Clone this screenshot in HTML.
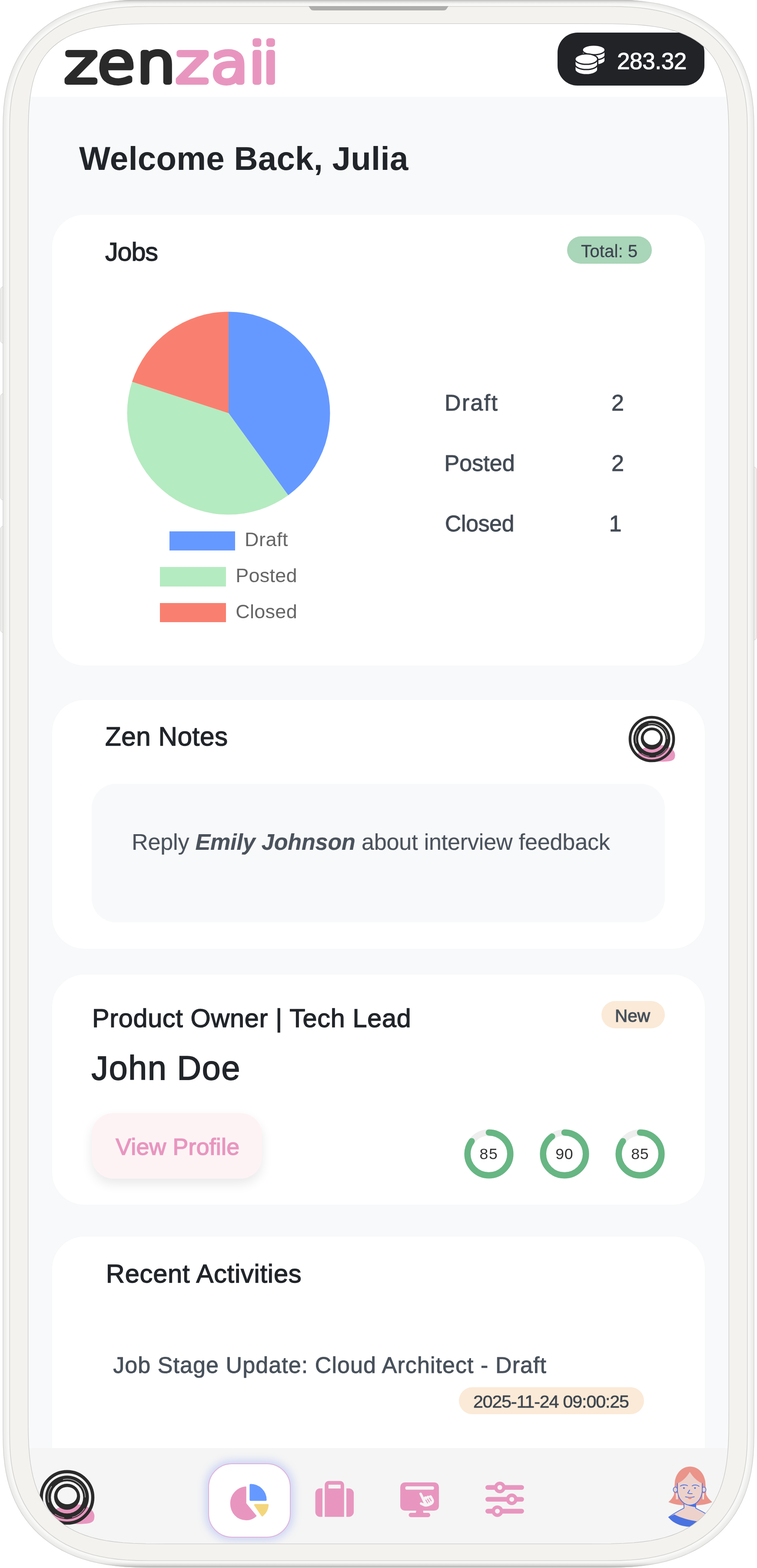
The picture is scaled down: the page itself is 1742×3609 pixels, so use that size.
<!DOCTYPE html>
<html><head><meta charset="utf-8"><title>zenzaii</title>
<style>
html,body{margin:0;padding:0;}
body{width:1742px;height:3609px;position:relative;overflow:hidden;background:#ffffff;font-family:"Liberation Sans", Arial, sans-serif;}
#scr{position:absolute;left:0;top:0;width:1742px;height:3609px;clip-path:inset(46px 54px 50px 56px round 215px);}
.t{position:absolute;white-space:nowrap;}
.r{position:absolute;}
.abs{position:absolute;overflow:visible;}

</style></head><body>
<div id="scr">
<div class="r" style="left:58px;top:48px;width:1628px;height:3514px;background:#f8f9fa;border-radius:0px;"></div>
<div class="r" style="left:58px;top:48px;width:1628px;height:175px;background:#ffffff;border-radius:0px;"></div>
<svg class="abs" style="left:0;top:0" width="700" height="230" viewBox="0 0 700 230"><text transform="translate(0,188.8) scale(1.14,1)" font-family="DejaVu Sans, Liberation Sans, sans-serif" font-weight="200" font-size="124" stroke-width="12" stroke-linejoin="round" stroke-linecap="round"><tspan x="130.96 196.81 275.85" fill="#2a2a2a" stroke="#2a2a2a">zen</tspan><tspan x="355.53 425.40 502.01 529.68" fill="#e896bf" stroke="#e896bf">zaii</tspan></text></svg>
<div class="r" style="left:1283px;top:75px;width:338px;height:122px;background:#212327;border-radius:46px;"></div>
<svg class="abs" style="left:0;top:0;overflow:visible" width="1" height="1">
<g fill="#fff" stroke="#212327" stroke-width="3">
<path d="M1340.1,114.9 L1340.1,139 A26.2,11.2 0 0 0 1392.5,139 L1392.5,114.9 Z"/>
<path d="M1340.1,127 A26.2,11.2 0 0 0 1392.5,127" fill="none"/>
<ellipse cx="1366.3" cy="114.9" rx="26.2" ry="11.2"/>
<path d="M1323,136.1 L1323,160.1 A26.2,12 0 0 0 1375.5,160.1 L1375.5,136.1 Z"/>
<path d="M1323,148.1 A26.2,12 0 0 0 1375.5,148.1" fill="none"/>
<ellipse cx="1349.2" cy="136.1" rx="26.2" ry="12"/>
</g></svg>
<div class="r" style="left:120px;top:493.5px;width:1501.5px;height:1038.0px;background:#ffffff;border-radius:74px;box-shadow:0 0 3px rgba(0,0,0,0.025);"></div>
<div class="r" style="left:120px;top:1611px;width:1501.5px;height:572.5px;background:#ffffff;border-radius:74px;box-shadow:0 0 3px rgba(0,0,0,0.025);"></div>
<div class="r" style="left:120px;top:2243px;width:1501.5px;height:530.3000000000002px;background:#ffffff;border-radius:74px;box-shadow:0 0 3px rgba(0,0,0,0.025);"></div>
<div class="r" style="left:120px;top:2846px;width:1501.5px;height:574px;background:#ffffff;border-radius:74px;box-shadow:0 0 3px rgba(0,0,0,0.025);"></div>
<div class="r" style="left:1305px;top:544px;width:195px;height:62.60000000000002px;background:#a9d5b8;border-radius:32px;"></div>
<svg class="abs" style="left:0;top:0" width="1742" height="1500"><path d="M526,951 L526.00,717.50 A233.5,233.5 0 0 1 663.25,1139.91 Z" fill="#6699ff"/><path d="M526,951 L663.25,1139.91 A233.5,233.5 0 0 1 303.93,878.84 Z" fill="#b5ebc0"/><path d="M526,951 L303.93,878.84 A233.5,233.5 0 0 1 526.00,717.50 Z" fill="#f98070"/></svg>
<div class="r" style="left:389.6px;top:1222.5px;width:151.39999999999998px;height:44.200000000000045px;background:#6699ff;border-radius:0px;"></div>
<div class="r" style="left:368px;top:1305px;width:151.60000000000002px;height:44.59999999999991px;background:#b5ebc0;border-radius:0px;"></div>
<div class="r" style="left:368px;top:1388px;width:151.60000000000002px;height:44px;background:#f98070;border-radius:0px;"></div>
<svg class="abs" style="left:1440px;top:1640px" width="120" height="120" viewBox="-60 -61 120 120"><path d="M-32,34 C-25,17 10,11 30,15 C52,21 55,34 53,41 C52,51 40,52 20,52 L-10,51 C-25,49 -35,44 -32,34 Z" fill="#e896bf"/><circle r="50.2" fill="none" stroke="#2a2a2a" stroke-width="6.3"/><path d="M-42.60,0.00 A42.6,42.6 0 1 0 42.60,0.00 A42.6,42.6 0 1 0 -42.60,0.00 Z M-31.50,0.00 A31.5,31.5 0 1 0 31.50,0.00 A31.5,31.5 0 1 0 -31.50,0.00 Z" fill="#2a2a2a" fill-rule="evenodd"/><path d="M-25.40,-1.20 A25.4,25.4 0 1 0 25.40,-1.20 A25.4,25.4 0 1 0 -25.40,-1.20 Z M-18.80,-3.40 A19.1,16.9 0 1 0 19.40,-3.40 A19.1,16.9 0 1 0 -18.80,-3.40 Z" fill="#2a2a2a" fill-rule="evenodd"/><path d="M-7.99,-34.59 A35.5,35.5 0 0 1 35.50,-0.00 M-35.57,10.20 A37,37 0 0 1 -29.93,-21.75" fill="none" stroke="#ffffff" stroke-width="1.1" opacity="0.85"/><path d="M34.18,21.36 A40.3,40.3 0 0 1 9.75,39.10 M-5.61,39.91 A40.3,40.3 0 0 1 -23.69,32.60" fill="none" stroke="#e896bf" stroke-width="1.2" opacity="0.9"/></svg>
<div class="r" style="left:211px;top:1804px;width:1319px;height:318.5px;background:#f8f9fa;border-radius:56px;"></div>
<div class="r" style="left:1384px;top:2304px;width:146px;height:62.69999999999982px;background:#fbead7;border-radius:32px;"></div>
<div class="r" style="left:211px;top:2562px;width:392px;height:151px;background:#fdf3f5;border-radius:50px;box-shadow:0 12px 26px rgba(0,0,0,0.09);"></div>
<svg class="abs" style="left:1064.8px;top:2596.4px" width="120" height="120" viewBox="0 0 120 120"><circle cx="60" cy="60" r="49.3" fill="none" stroke="#eeeeee" stroke-width="14.5"/><circle cx="60" cy="60" r="49.3" fill="none" stroke="#67b683" stroke-width="14.5" stroke-linecap="round" stroke-dasharray="263.30 309.76" transform="rotate(-90 60 60)"/></svg>
<svg class="abs" style="left:1238.8px;top:2596.4px" width="120" height="120" viewBox="0 0 120 120"><circle cx="60" cy="60" r="49.3" fill="none" stroke="#eeeeee" stroke-width="14.5"/><circle cx="60" cy="60" r="49.3" fill="none" stroke="#67b683" stroke-width="14.5" stroke-linecap="round" stroke-dasharray="278.78 309.76" transform="rotate(-90 60 60)"/></svg>
<svg class="abs" style="left:1412.8px;top:2596.4px" width="120" height="120" viewBox="0 0 120 120"><circle cx="60" cy="60" r="49.3" fill="none" stroke="#eeeeee" stroke-width="14.5"/><circle cx="60" cy="60" r="49.3" fill="none" stroke="#67b683" stroke-width="14.5" stroke-linecap="round" stroke-dasharray="263.30 309.76" transform="rotate(-90 60 60)"/></svg>
<div class="r" style="left:1055.5px;top:3192.5px;width:426.5px;height:62.5px;background:#fbead7;border-radius:31px;"></div>
<div class="t" id="t_coin" style="left:1420.00px;top:114.37px;font-size:53.07px;line-height:53.07px;color:#ffffff;font-weight:400;letter-spacing:-0.400px;-webkit-text-stroke:1.1px #ffffff;">283.32</div>
<div class="t" id="t_welcome" style="left:181.90px;top:327.05px;font-size:76.26px;line-height:76.26px;color:#212529;font-weight:700;letter-spacing:0.246px;">Welcome Back, Julia</div>
<div class="t" id="t_jobs" style="left:242.00px;top:549.75px;font-size:59.36px;line-height:59.36px;color:#212529;font-weight:400;letter-spacing:-1.135px;-webkit-text-stroke:1.4px #212529;">Jobs</div>
<div class="t" id="t_total" style="left:1337.00px;top:558.23px;font-size:40.36px;line-height:40.36px;color:#3d4250;font-weight:400;letter-spacing:0.025px;-webkit-text-stroke:0.3px #3d4250;">Total: 5</div>
<div class="t" id="t_lg_draft" style="left:563.10px;top:1219.21px;font-size:45.00px;line-height:45.00px;color:#666666;font-weight:400;letter-spacing:0.450px;">Draft</div>
<div class="t" id="t_lg_posted" style="left:542.30px;top:1302.01px;font-size:45.00px;line-height:45.00px;color:#666666;font-weight:400;letter-spacing:0.240px;">Posted</div>
<div class="t" id="t_lg_closed" style="left:542.20px;top:1385.01px;font-size:45.00px;line-height:45.00px;color:#666666;font-weight:400;letter-spacing:0.280px;">Closed</div>
<div class="t" id="t_st_draft" style="left:1023.10px;top:902.32px;font-size:51.96px;line-height:51.96px;color:#434b55;font-weight:400;letter-spacing:2.300px;-webkit-text-stroke:1.0px #434b55;">Draft</div>
<div class="t" id="t_st_posted" style="left:1022.50px;top:1039.50px;font-size:52.09px;line-height:52.09px;color:#434b55;font-weight:400;letter-spacing:0.000px;-webkit-text-stroke:1.0px #434b55;">Posted</div>
<div class="t" id="t_st_closed" style="left:1024.00px;top:1179.86px;font-size:51.68px;line-height:51.68px;color:#434b55;font-weight:400;letter-spacing:-0.280px;-webkit-text-stroke:1.0px #434b55;">Closed</div>
<div class="t" id="t_n_draft" style="left:1407.00px;top:902.32px;font-size:51.96px;line-height:51.96px;color:#434b55;font-weight:400;letter-spacing:0.000px;-webkit-text-stroke:1.0px #434b55;">2</div>
<div class="t" id="t_n_posted" style="left:1407.00px;top:1039.50px;font-size:52.09px;line-height:52.09px;color:#434b55;font-weight:400;letter-spacing:0.000px;-webkit-text-stroke:1.0px #434b55;">2</div>
<div class="t" id="t_n_closed" style="left:1401.75px;top:1179.86px;font-size:51.68px;line-height:51.68px;color:#434b55;font-weight:400;letter-spacing:0.000px;-webkit-text-stroke:1.0px #434b55;">1</div>
<div class="t" id="t_zen" style="left:242.00px;top:1666.44px;font-size:60.20px;line-height:60.20px;color:#212529;font-weight:400;letter-spacing:0.541px;-webkit-text-stroke:1.4px #212529;">Zen Notes</div>
<div class="t" id="t_note" style="left:303.00px;top:1911.78px;font-size:52.23px;line-height:52.23px;color:#4a525c;font-weight:400;letter-spacing:-0.249px;-webkit-text-stroke:0.2px #4a525c;">Reply <b><i>Emily Johnson</i></b> about interview feedback</div>
<div class="t" id="t_po" style="left:212.00px;top:2314.35px;font-size:59.36px;line-height:59.36px;color:#212529;font-weight:400;letter-spacing:0.688px;-webkit-text-stroke:1.4px #212529;">Product Owner | Tech Lead</div>
<div class="t" id="t_new" style="left:1415.00px;top:2318.31px;font-size:40.50px;line-height:40.50px;color:#48525c;font-weight:400;letter-spacing:0.000px;-webkit-text-stroke:1.2px #48525c;">New</div>
<div class="t" id="t_john" style="left:210.60px;top:2419.86px;font-size:76.96px;line-height:76.96px;color:#212529;font-weight:400;letter-spacing:1.739px;-webkit-text-stroke:1.8px #212529;">John Doe</div>
<div class="t" id="t_view" style="left:266.20px;top:2613.20px;font-size:53.63px;line-height:53.63px;color:#e896bf;font-weight:400;letter-spacing:0.241px;-webkit-text-stroke:1.6px #e896bf;">View Profile</div>
<div class="t" id="t_r1" style="left:1103.50px;top:2638.73px;font-size:35.75px;line-height:35.75px;color:#333333;font-weight:400;letter-spacing:1.600px;">85</div>
<div class="t" id="t_r2" style="left:1278.30px;top:2638.73px;font-size:35.75px;line-height:35.75px;color:#333333;font-weight:400;letter-spacing:0.600px;">90</div>
<div class="t" id="t_r3" style="left:1452.30px;top:2638.73px;font-size:35.75px;line-height:35.75px;color:#333333;font-weight:400;letter-spacing:0.600px;">85</div>
<div class="t" id="t_recent" style="left:243.80px;top:2901.62px;font-size:59.64px;line-height:59.64px;color:#212529;font-weight:400;letter-spacing:0.775px;-webkit-text-stroke:1.4px #212529;">Recent Activities</div>
<div class="t" id="t_act" style="left:260.20px;top:3116.30px;font-size:52.09px;line-height:52.09px;color:#48515b;font-weight:400;letter-spacing:1.039px;-webkit-text-stroke:0.9px #48515b;">Job Stage Update: Cloud Architect - Draft</div>
<div class="t" id="t_date" style="left:1089.00px;top:3206.42px;font-size:41.20px;line-height:41.20px;color:#3e4650;font-weight:400;letter-spacing:-1.137px;-webkit-text-stroke:0.7px #3e4650;">2025-11-24 09:00:25</div>
<div class="r" style="left:58px;top:3332.5px;width:1628px;height:229.5px;background:#f5f5f5;border-radius:0px;"></div>
<svg class="abs" style="left:84px;top:3376px" width="140" height="140" viewBox="-70 -70 140 140"><g transform="translate(0.3,0.4) scale(1.18)"><path d="M-32,34 C-25,17 10,11 30,15 C52,21 55,34 53,41 C52,51 40,52 20,52 L-10,51 C-25,49 -35,44 -32,34 Z" fill="#e896bf"/><circle r="50.2" fill="none" stroke="#2a2a2a" stroke-width="6.3"/><path d="M-42.60,0.00 A42.6,42.6 0 1 0 42.60,0.00 A42.6,42.6 0 1 0 -42.60,0.00 Z M-31.50,0.00 A31.5,31.5 0 1 0 31.50,0.00 A31.5,31.5 0 1 0 -31.50,0.00 Z" fill="#2a2a2a" fill-rule="evenodd"/><path d="M-25.40,-1.20 A25.4,25.4 0 1 0 25.40,-1.20 A25.4,25.4 0 1 0 -25.40,-1.20 Z M-18.80,-3.40 A19.1,16.9 0 1 0 19.40,-3.40 A19.1,16.9 0 1 0 -18.80,-3.40 Z" fill="#2a2a2a" fill-rule="evenodd"/><path d="M-7.99,-34.59 A35.5,35.5 0 0 1 35.50,-0.00 M-35.57,10.20 A37,37 0 0 1 -29.93,-21.75" fill="none" stroke="#ffffff" stroke-width="1.1" opacity="0.85"/><path d="M34.18,21.36 A40.3,40.3 0 0 1 9.75,39.10 M-5.61,39.91 A40.3,40.3 0 0 1 -23.69,32.60" fill="none" stroke="#e896bf" stroke-width="1.2" opacity="0.9"/></g></svg>
<div class="r" style="left:478.5px;top:3367.6px;width:190.60000000000002px;height:171.5px;background:#ffffff;border-radius:55px;border:2px solid #dfb3dc;box-sizing:border-box;box-shadow:0 0 18px 7px rgba(150,170,245,0.42);"></div>
<svg class="abs" style="left:0;top:0;overflow:visible" width="1" height="1">
<path d="M576.9,3452.1 L576.9,3417.9 A34.2,34.2 0 0 1 611.1,3452.1 Z" fill="#6699ff" stroke="#6699ff" stroke-width="5" stroke-linejoin="round"/>
<path d="M565,3423 L565,3460.5 L588.5,3489 C582,3495 575,3497.5 567,3497.5 C546,3497.5 531.5,3481 531.5,3460 C531.5,3441 546,3425 565,3423 Z" fill="#e896bf" stroke="#e896bf" stroke-width="3.5" stroke-linejoin="round"/>
<path d="M587,3464 L616,3464 C615.5,3474 611,3482 603.5,3488 Z" fill="#f3d67c" stroke="#f3d67c" stroke-width="4.5" stroke-linejoin="round"/>
</svg>
<svg class="abs" style="left:0;top:0;overflow:visible" width="1" height="1"><g fill="#e896bf">
<path d="M742,3425.8 L742,3491.2 L736,3491.2 C730,3491.2 725.6,3486 725.6,3480 L725.6,3437 C725.6,3431 730,3425.8 736,3425.8 Z"/>
<path d="M797.1,3425.8 L797.1,3491.2 L803,3491.2 C809,3491.2 814.1,3486 814.1,3480 L814.1,3437 C814.1,3431 809,3425.8 803,3425.8 Z"/>
<path d="M747.3,3491.2 L747.3,3418 C747.3,3413 751.5,3408.8 756.5,3408.8 L782.6,3408.8 C787.6,3408.8 791.8,3413 791.8,3418 L791.8,3491.2 Z M755.9,3417.3 L755.9,3426.1 L783.8,3426.1 L783.8,3417.3 Z" fill-rule="evenodd"/>
</g></svg>
<svg class="abs" style="left:0;top:0;overflow:visible" width="1" height="1">
<g fill="#e896bf">
<rect x="921.1" y="3411.9" width="88.9" height="65.1" rx="10.5"/>
<path d="M958.2,3476 L973.3,3476 L974.5,3483 L956.5,3483 Z"/>
<rect x="940.5" y="3481.9" width="49.6" height="10.1" rx="5.05"/>
</g>
<rect x="932.6" y="3421" width="66.3" height="7.8" rx="3.9" fill="#f5f5f5"/>
<path d="M965,3438.5 C964.5,3435.5 969,3434.5 970.5,3437 L975.3,3446.5 C977,3443.5 980,3443.5 981.5,3444.8 C982.8,3442.2 986,3442 987.2,3443.8 C988.6,3441 992,3440.6 993.5,3443 L997.8,3451 C1000,3456 998,3461 993,3463.8 L987,3466.6 C983,3468.2 978,3468.2 974,3466.2 L967.5,3463.2 C964.8,3461.6 966.6,3456.8 969.6,3458 L975.2,3460.2 Z" fill="#f5f5f5"/>
<g stroke="#e896bf" stroke-width="2.2" stroke-linecap="round"><path d="M980,3452.7 L983.9,3459.3"/><path d="M983.9,3450.4 L987.9,3457"/><path d="M988.3,3448.2 L992.3,3454.4"/></g>
</svg>
<svg class="abs" style="left:0;top:0;overflow:visible" width="1" height="1">
<g stroke="#e896bf" stroke-width="10.9" stroke-linecap="round"><path d="M1122.5,3423.6 L1200.4,3423.6"/><path d="M1122.5,3450.9 L1200.4,3450.9"/><path d="M1122.5,3478.2 L1200.4,3478.2"/></g>
<g fill="#e896bf"><circle cx="1150.2" cy="3423.6" r="13.3"/><circle cx="1177.7" cy="3450.9" r="13.3"/><circle cx="1144.6" cy="3478.2" r="13.3"/></g>
<g fill="#f5f5f5"><circle cx="1150.2" cy="3423.6" r="5.5"/><circle cx="1177.7" cy="3450.9" r="5.5"/><circle cx="1144.6" cy="3478.2" r="5.5"/></g>
</svg>
<svg class="abs" style="left:1530px;top:3365px" width="120" height="160" viewBox="0 0 120 160">
<path d="M57.9,10.6 C40,10.6 26,25 23,45 L21,75 C18,83 12,89 8.2,92.2 C20,97 32,99.5 45,99.5 L72,99.5 C85,99.5 98,97 109,92.2 C104,88 98,82 95,75 L93,45 C90,25 76,10.6 57.9,10.6 Z" fill="#ea948a"/>
<path d="M43.9,95 L71,95 L71,106.2 C80,112 88,116 98,121 L100,140 C90,147 75,150 58,149 C40,148.7 22,143 8.2,127.4 C20,119 32,112 43.9,106.2 Z" fill="#edd2cc"/>
<path d="M8.2,127.4 L22,120.7 C35,128 55,134 77,137 L100,137 C92,146 75,150 58,149 C40,148.7 25,143 14.5,134 Z" fill="#4a72e0"/>
<g fill="none" stroke="#4a72e0" stroke-width="1.8" stroke-linejoin="round">
<path d="M43.9,96 L43.9,106.2 C32,112 20,119 8.2,127.4"/>
<path d="M71,96 L71,106.2 C80,111 88,115 96,120"/>
</g>
<path d="M54,100.4 L71,97 L71,104.3 Z" fill="#4a72e0"/>
<ellipse cx="24.1" cy="63.7" rx="4.8" ry="6" fill="#edd2cc" stroke="#4a72e0" stroke-width="1.6"/>
<ellipse cx="89.8" cy="63.7" rx="4.8" ry="6" fill="#edd2cc" stroke="#4a72e0" stroke-width="1.6"/>
<path d="M57.4,22.7 C50,35 40,45 29,49.2 L29,68 C31,86 44,99.4 57.9,99.4 C72,99.4 84,86 86,68 L86,49.2 C75,45 65,35 57.4,22.7 Z" fill="#edd2cc"/>
<g fill="none" stroke="#4a72e0" stroke-width="1.8" stroke-linecap="round">
<path d="M29,49.5 L29,68 C31,86 44,99.4 57.9,99.4 C72,99.4 84,86 86,68 L86,49.5"/>
<path d="M35.7,55.5 C39,52.5 47,51.5 52.1,54.5"/><path d="M62.8,55 C67,52 74,52 78.7,56"/>
<path d="M57,64.7 L52.6,71.4 C54,73 58,73 62.8,72.9"/>
<path d="M47.3,80.1 C54,82 61,82 67.6,80.1"/>
</g>
<path d="M51.5,81 C55,81.5 60,81.5 63.5,81 C62,84 60,85.4 57.9,85.4 C55,85.4 53,84 51.5,81 Z" fill="#ec8c80"/>
<circle cx="43.9" cy="59.9" r="2" fill="#4a72e0"/><circle cx="69.3" cy="59.9" r="2" fill="#4a72e0"/>
<g stroke="#ffffff" stroke-width="1.6" opacity="0.9"><path d="M26.5,72 L26.5,86"/><path d="M28.5,72 L29,86"/><path d="M87.5,72 L87.5,86"/><path d="M89.5,72 L89,86"/></g>
</svg>
</div>
<svg class="abs" style="left:0;top:0" width="1742" height="3609" viewBox="0 0 1742 3609">
<defs>
<mask id="hole" maskUnits="userSpaceOnUse" x="0" y="0" width="1742" height="3609"><rect x="0" y="0" width="1742" height="3609" fill="#fff"/><path d="M64.70,356.00 L64.99,293.01 L65.87,264.28 L67.34,241.83 L69.40,222.77 L72.05,205.98 L75.29,190.88 L79.13,177.12 L83.58,164.48 L88.65,152.82 L94.33,142.04 L100.64,132.04 L107.61,122.77 L115.23,114.19 L123.53,106.26 L132.55,98.95 L142.30,92.25 L152.83,86.12 L164.20,80.57 L176.46,75.57 L189.71,71.11 L204.07,67.20 L219.71,63.82 L236.88,60.96 L255.97,58.63 L277.62,56.82 L303.14,55.53 L335.81,54.76 L407.40,54.50 L1334.60,54.50 L1406.19,54.76 L1438.86,55.53 L1464.38,56.82 L1486.03,58.63 L1505.12,60.96 L1522.29,63.82 L1537.93,67.20 L1552.29,71.11 L1565.54,75.57 L1577.80,80.57 L1589.17,86.12 L1599.70,92.25 L1609.45,98.95 L1618.47,106.26 L1626.77,114.19 L1634.39,122.77 L1641.36,132.04 L1647.67,142.04 L1653.35,152.82 L1658.42,164.48 L1662.87,177.12 L1666.71,190.88 L1669.95,205.98 L1672.60,222.77 L1674.66,241.83 L1676.13,264.28 L1677.01,293.01 L1677.30,356.00 L1677.30,3248.00 L1676.98,3297.89 L1676.02,3325.08 L1674.41,3347.31 L1672.17,3366.73 L1669.28,3384.21 L1665.74,3400.20 L1661.56,3414.97 L1656.73,3428.69 L1651.25,3441.48 L1645.11,3453.42 L1638.31,3464.57 L1630.84,3474.97 L1622.69,3484.66 L1613.84,3493.67 L1604.29,3502.00 L1594.02,3509.69 L1582.98,3516.73 L1571.16,3523.15 L1558.50,3528.94 L1544.94,3534.11 L1530.38,3538.66 L1514.72,3542.60 L1497.76,3545.94 L1479.22,3548.66 L1458.62,3550.78 L1435.05,3552.29 L1406.22,3553.20 L1353.30,3553.50 L388.70,3553.50 L335.78,3553.20 L306.95,3552.29 L283.38,3550.78 L262.78,3548.66 L244.24,3545.94 L227.28,3542.60 L211.62,3538.66 L197.06,3534.11 L183.50,3528.94 L170.84,3523.15 L159.02,3516.73 L147.98,3509.69 L137.71,3502.00 L128.16,3493.67 L119.31,3484.66 L111.16,3474.97 L103.69,3464.57 L96.89,3453.42 L90.75,3441.48 L85.27,3428.69 L80.44,3414.97 L76.26,3400.20 L72.72,3384.21 L69.83,3366.73 L67.59,3347.31 L65.98,3325.08 L65.02,3297.89 L64.70,3248.00 Z" fill="#000"/></mask>
<clipPath id="rimclip"><path d="M6.30,298.00 L6.73,269.54 L8.03,247.95 L10.19,228.46 L13.21,210.32 L17.09,193.20 L21.82,176.96 L27.39,161.50 L33.80,146.77 L41.04,132.73 L49.10,119.37 L57.97,106.69 L67.64,94.68 L78.10,83.34 L89.34,72.68 L101.36,62.70 L114.14,53.42 L127.68,44.84 L141.97,36.97 L157.02,29.82 L172.85,23.40 L189.45,17.71 L206.88,12.77 L225.19,8.57 L244.47,5.13 L264.92,2.45 L286.89,0.54 L311.22,-0.62 L343.30,-1.00 L1398.70,-1.00 L1430.78,-0.62 L1455.11,0.54 L1477.08,2.45 L1497.53,5.13 L1516.81,8.57 L1535.12,12.77 L1552.55,17.71 L1569.15,23.40 L1584.98,29.82 L1600.03,36.97 L1614.32,44.84 L1627.86,53.42 L1640.64,62.70 L1652.66,72.68 L1663.90,83.34 L1674.36,94.68 L1684.03,106.69 L1692.90,119.37 L1700.96,132.73 L1708.20,146.77 L1714.61,161.50 L1720.18,176.96 L1724.91,193.20 L1728.79,210.32 L1731.81,228.46 L1733.97,247.95 L1735.27,269.54 L1735.70,298.00 L1735.70,3297.00 L1735.27,3326.89 L1733.97,3349.44 L1731.80,3369.76 L1728.77,3388.66 L1724.89,3406.47 L1720.15,3423.36 L1714.57,3439.43 L1708.14,3454.74 L1700.89,3469.32 L1692.81,3483.19 L1683.92,3496.35 L1674.22,3508.81 L1663.73,3520.58 L1652.46,3531.63 L1640.41,3541.98 L1627.58,3551.60 L1614.00,3560.50 L1599.65,3568.65 L1584.53,3576.06 L1568.64,3582.72 L1551.95,3588.61 L1534.44,3593.74 L1516.02,3598.08 L1496.61,3601.65 L1476.01,3604.42 L1453.86,3606.41 L1429.28,3607.60 L1396.70,3608.00 L345.30,3608.00 L312.72,3607.60 L288.14,3606.41 L265.99,3604.42 L245.39,3601.65 L225.98,3598.08 L207.56,3593.74 L190.05,3588.61 L173.36,3582.72 L157.47,3576.06 L142.35,3568.65 L128.00,3560.50 L114.42,3551.60 L101.59,3541.98 L89.54,3531.63 L78.27,3520.58 L67.78,3508.81 L58.08,3496.35 L49.19,3483.19 L41.11,3469.32 L33.86,3454.74 L27.43,3439.43 L21.85,3423.36 L17.11,3406.47 L13.23,3388.66 L10.20,3369.76 L8.03,3349.44 L6.73,3326.89 L6.30,3297.00 Z M21.50,298.00 L21.91,270.99 L23.15,250.49 L25.22,232.00 L28.10,214.77 L31.80,198.53 L36.32,183.12 L41.64,168.44 L47.76,154.45 L54.67,141.13 L62.37,128.45 L70.84,116.42 L80.07,105.01 L90.06,94.25 L100.80,84.13 L112.27,74.67 L124.47,65.86 L137.40,57.71 L151.05,50.24 L165.43,43.46 L180.53,37.36 L196.39,31.96 L213.03,27.27 L230.51,23.29 L248.93,20.02 L268.46,17.48 L289.43,15.66 L312.67,14.56 L343.30,14.20 L1398.70,14.20 L1429.33,14.56 L1452.57,15.66 L1473.54,17.48 L1493.07,20.02 L1511.49,23.29 L1528.97,27.27 L1545.61,31.96 L1561.47,37.36 L1576.57,43.46 L1590.95,50.24 L1604.60,57.71 L1617.53,65.86 L1629.73,74.67 L1641.20,84.13 L1651.94,94.25 L1661.93,105.01 L1671.16,116.42 L1679.63,128.45 L1687.33,141.13 L1694.24,154.45 L1700.36,168.44 L1705.68,183.12 L1710.20,198.53 L1713.90,214.77 L1716.78,232.00 L1718.85,250.49 L1720.09,270.99 L1720.50,298.00 L1720.50,3297.00 L1720.09,3325.43 L1718.84,3346.88 L1716.78,3366.20 L1713.88,3384.18 L1710.17,3401.12 L1705.65,3417.18 L1700.31,3432.47 L1694.18,3447.03 L1687.25,3460.90 L1679.53,3474.09 L1671.04,3486.61 L1661.78,3498.46 L1651.76,3509.65 L1640.99,3520.17 L1629.48,3530.00 L1617.23,3539.16 L1604.25,3547.62 L1590.55,3555.38 L1576.11,3562.42 L1560.93,3568.75 L1544.99,3574.36 L1528.26,3579.23 L1510.67,3583.37 L1492.13,3586.76 L1472.45,3589.40 L1451.30,3591.29 L1427.82,3592.42 L1396.70,3592.80 L345.30,3592.80 L314.18,3592.42 L290.70,3591.29 L269.55,3589.40 L249.87,3586.76 L231.33,3583.37 L213.74,3579.23 L197.01,3574.36 L181.07,3568.75 L165.89,3562.42 L151.45,3555.38 L137.75,3547.62 L124.77,3539.16 L112.52,3530.00 L101.01,3520.17 L90.24,3509.65 L80.22,3498.46 L70.96,3486.61 L62.47,3474.09 L54.75,3460.90 L47.82,3447.03 L41.69,3432.47 L36.35,3417.18 L31.83,3401.12 L28.12,3384.18 L25.22,3366.20 L23.16,3346.88 L21.91,3325.43 L21.50,3297.00 Z" clip-rule="evenodd"/></clipPath>
<linearGradient id="gTop" gradientUnits="userSpaceOnUse" x1="0" y1="-1" x2="0" y2="9"><stop offset="0" stop-color="#b0b0ae"/><stop offset="1" stop-color="#e8e8e6" stop-opacity="0"/></linearGradient>
<linearGradient id="gBot" gradientUnits="userSpaceOnUse" x1="0" y1="3595" x2="0" y2="3608"><stop offset="0" stop-color="#e4e4e2" stop-opacity="0"/><stop offset="1" stop-color="#acacaa"/></linearGradient>
</defs>
<g fill="#efefed" stroke="#cfcfcd" stroke-width="1">
<rect x="1.5" y="660" width="14" height="130" rx="6"/>
<rect x="1.5" y="906" width="14" height="245" rx="6"/>
<rect x="1.5" y="1211" width="14" height="245" rx="6"/>
<rect x="1727" y="1075" width="14" height="398" rx="6"/>
</g>
<g mask="url(#hole)">
<path d="M6.30,298.00 L6.73,269.54 L8.03,247.95 L10.19,228.46 L13.21,210.32 L17.09,193.20 L21.82,176.96 L27.39,161.50 L33.80,146.77 L41.04,132.73 L49.10,119.37 L57.97,106.69 L67.64,94.68 L78.10,83.34 L89.34,72.68 L101.36,62.70 L114.14,53.42 L127.68,44.84 L141.97,36.97 L157.02,29.82 L172.85,23.40 L189.45,17.71 L206.88,12.77 L225.19,8.57 L244.47,5.13 L264.92,2.45 L286.89,0.54 L311.22,-0.62 L343.30,-1.00 L1398.70,-1.00 L1430.78,-0.62 L1455.11,0.54 L1477.08,2.45 L1497.53,5.13 L1516.81,8.57 L1535.12,12.77 L1552.55,17.71 L1569.15,23.40 L1584.98,29.82 L1600.03,36.97 L1614.32,44.84 L1627.86,53.42 L1640.64,62.70 L1652.66,72.68 L1663.90,83.34 L1674.36,94.68 L1684.03,106.69 L1692.90,119.37 L1700.96,132.73 L1708.20,146.77 L1714.61,161.50 L1720.18,176.96 L1724.91,193.20 L1728.79,210.32 L1731.81,228.46 L1733.97,247.95 L1735.27,269.54 L1735.70,298.00 L1735.70,3297.00 L1735.27,3326.89 L1733.97,3349.44 L1731.80,3369.76 L1728.77,3388.66 L1724.89,3406.47 L1720.15,3423.36 L1714.57,3439.43 L1708.14,3454.74 L1700.89,3469.32 L1692.81,3483.19 L1683.92,3496.35 L1674.22,3508.81 L1663.73,3520.58 L1652.46,3531.63 L1640.41,3541.98 L1627.58,3551.60 L1614.00,3560.50 L1599.65,3568.65 L1584.53,3576.06 L1568.64,3582.72 L1551.95,3588.61 L1534.44,3593.74 L1516.02,3598.08 L1496.61,3601.65 L1476.01,3604.42 L1453.86,3606.41 L1429.28,3607.60 L1396.70,3608.00 L345.30,3608.00 L312.72,3607.60 L288.14,3606.41 L265.99,3604.42 L245.39,3601.65 L225.98,3598.08 L207.56,3593.74 L190.05,3588.61 L173.36,3582.72 L157.47,3576.06 L142.35,3568.65 L128.00,3560.50 L114.42,3551.60 L101.59,3541.98 L89.54,3531.63 L78.27,3520.58 L67.78,3508.81 L58.08,3496.35 L49.19,3483.19 L41.11,3469.32 L33.86,3454.74 L27.43,3439.43 L21.85,3423.36 L17.11,3406.47 L13.23,3388.66 L10.20,3369.76 L8.03,3349.44 L6.73,3326.89 L6.30,3297.00 Z" fill="#c8c8c6"/><path d="M7.30,298.00 L7.73,269.64 L9.03,248.12 L11.18,228.69 L14.19,210.61 L18.06,193.56 L22.77,177.37 L28.33,161.96 L34.72,147.27 L41.94,133.28 L49.97,119.97 L58.82,107.33 L68.46,95.36 L78.89,84.06 L90.10,73.43 L102.08,63.49 L114.82,54.24 L128.32,45.69 L142.57,37.85 L157.58,30.72 L173.35,24.32 L189.91,18.65 L207.28,13.72 L225.54,9.54 L244.77,6.11 L265.16,3.44 L287.06,1.53 L311.32,0.38 L343.30,0.00 L1398.70,0.00 L1430.68,0.38 L1454.94,1.53 L1476.84,3.44 L1497.23,6.11 L1516.46,9.54 L1534.72,13.72 L1552.09,18.65 L1568.65,24.32 L1584.42,30.72 L1599.43,37.85 L1613.68,45.69 L1627.18,54.24 L1639.92,63.49 L1651.90,73.43 L1663.11,84.06 L1673.54,95.36 L1683.18,107.33 L1692.03,119.97 L1700.06,133.28 L1707.28,147.27 L1713.67,161.96 L1719.23,177.37 L1723.94,193.56 L1727.81,210.61 L1730.82,228.69 L1732.97,248.12 L1734.27,269.64 L1734.70,298.00 L1734.70,3297.00 L1734.27,3326.79 L1732.97,3349.27 L1730.81,3369.53 L1727.79,3388.36 L1723.92,3406.11 L1719.20,3422.95 L1713.63,3438.97 L1707.22,3454.23 L1699.99,3468.76 L1691.94,3482.59 L1683.07,3495.71 L1673.40,3508.13 L1662.95,3519.86 L1651.70,3530.88 L1639.69,3541.19 L1626.90,3550.78 L1613.36,3559.65 L1599.05,3567.78 L1583.98,3575.17 L1568.13,3581.80 L1551.50,3587.67 L1534.03,3592.78 L1515.67,3597.11 L1496.31,3600.67 L1475.78,3603.43 L1453.69,3605.41 L1429.18,3606.60 L1396.70,3607.00 L345.30,3607.00 L312.82,3606.60 L288.31,3605.41 L266.22,3603.43 L245.69,3600.67 L226.33,3597.11 L207.97,3592.78 L190.50,3587.67 L173.87,3581.80 L158.02,3575.17 L142.95,3567.78 L128.64,3559.65 L115.10,3550.78 L102.31,3541.19 L90.30,3530.88 L79.05,3519.86 L68.60,3508.13 L58.93,3495.71 L50.06,3482.59 L42.01,3468.76 L34.78,3454.23 L28.37,3438.97 L22.80,3422.95 L18.08,3406.11 L14.21,3388.36 L11.19,3369.53 L9.03,3349.27 L7.73,3326.79 L7.30,3297.00 Z" fill="#eaeae8"/><path d="M10.30,298.00 L10.73,269.92 L12.01,248.62 L14.15,229.39 L17.13,211.49 L20.96,194.61 L25.63,178.58 L31.14,163.33 L37.48,148.79 L44.63,134.94 L52.59,121.76 L61.36,109.25 L70.91,97.40 L81.25,86.21 L92.36,75.69 L104.23,65.85 L116.86,56.69 L130.24,48.23 L144.36,40.47 L159.24,33.41 L174.87,27.07 L191.28,21.46 L208.50,16.59 L226.59,12.45 L245.65,9.05 L265.85,6.41 L287.56,4.52 L311.60,3.38 L343.30,3.00 L1398.70,3.00 L1430.40,3.38 L1454.44,4.52 L1476.15,6.41 L1496.35,9.05 L1515.41,12.45 L1533.50,16.59 L1550.72,21.46 L1567.13,27.07 L1582.76,33.41 L1597.64,40.47 L1611.76,48.23 L1625.14,56.69 L1637.77,65.85 L1649.64,75.69 L1660.75,86.21 L1671.09,97.40 L1680.64,109.25 L1689.41,121.76 L1697.37,134.94 L1704.52,148.79 L1710.86,163.33 L1716.37,178.58 L1721.04,194.61 L1724.87,211.49 L1727.85,229.39 L1729.99,248.62 L1731.27,269.92 L1731.70,298.00 L1731.70,3297.00 L1731.27,3326.50 L1729.99,3348.76 L1727.85,3368.82 L1724.86,3387.48 L1721.02,3405.06 L1716.33,3421.73 L1710.82,3437.60 L1704.47,3452.71 L1697.30,3467.10 L1689.32,3480.79 L1680.53,3493.79 L1670.95,3506.09 L1660.58,3517.70 L1649.44,3528.62 L1637.53,3538.83 L1624.86,3548.33 L1611.43,3557.11 L1597.25,3565.16 L1582.32,3572.47 L1566.61,3579.04 L1550.12,3584.86 L1532.81,3589.92 L1514.61,3594.21 L1495.43,3597.73 L1475.07,3600.47 L1453.19,3602.43 L1428.89,3603.61 L1396.70,3604.00 L345.30,3604.00 L313.11,3603.61 L288.81,3602.43 L266.93,3600.47 L246.57,3597.73 L227.39,3594.21 L209.19,3589.92 L191.88,3584.86 L175.39,3579.04 L159.68,3572.47 L144.75,3565.16 L130.57,3557.11 L117.14,3548.33 L104.47,3538.83 L92.56,3528.62 L81.42,3517.70 L71.05,3506.09 L61.47,3493.79 L52.68,3480.79 L44.70,3467.10 L37.53,3452.71 L31.18,3437.60 L25.67,3421.73 L20.98,3405.06 L17.14,3387.48 L14.15,3368.82 L12.01,3348.76 L10.73,3326.50 L10.30,3297.00 Z" fill="#efefed"/><path d="M14.30,298.00 L14.72,270.30 L15.99,249.29 L18.10,230.32 L21.05,212.66 L24.83,196.01 L29.45,180.20 L34.89,165.15 L41.15,150.81 L48.22,137.15 L56.08,124.15 L64.74,111.81 L74.18,100.12 L84.40,89.08 L95.37,78.71 L107.10,69.00 L119.58,59.97 L132.79,51.62 L146.75,43.96 L161.45,37.00 L176.89,30.75 L193.10,25.21 L210.12,20.40 L227.99,16.32 L246.82,12.97 L266.78,10.36 L288.23,8.49 L311.98,7.37 L343.30,7.00 L1398.70,7.00 L1430.02,7.37 L1453.77,8.49 L1475.22,10.36 L1495.18,12.97 L1514.01,16.32 L1531.88,20.40 L1548.90,25.21 L1565.11,30.75 L1580.55,37.00 L1595.25,43.96 L1609.21,51.62 L1622.42,59.97 L1634.90,69.00 L1646.63,78.71 L1657.60,89.08 L1667.82,100.12 L1677.26,111.81 L1685.92,124.15 L1693.78,137.15 L1700.85,150.81 L1707.11,165.15 L1712.55,180.20 L1717.17,196.01 L1720.95,212.66 L1723.90,230.32 L1726.01,249.29 L1727.28,270.30 L1727.70,298.00 L1727.70,3297.00 L1727.28,3326.12 L1726.01,3348.09 L1723.89,3367.89 L1720.94,3386.30 L1717.14,3403.65 L1712.52,3420.11 L1707.07,3435.77 L1700.79,3450.68 L1693.71,3464.89 L1685.82,3478.40 L1677.14,3491.22 L1667.67,3503.37 L1657.43,3514.83 L1646.42,3525.60 L1634.65,3535.68 L1622.14,3545.05 L1608.87,3553.72 L1594.86,3561.66 L1580.10,3568.88 L1564.58,3575.37 L1548.29,3581.11 L1531.19,3586.10 L1513.21,3590.34 L1494.25,3593.81 L1474.14,3596.51 L1452.51,3598.45 L1428.51,3599.61 L1396.70,3600.00 L345.30,3600.00 L313.49,3599.61 L289.49,3598.45 L267.86,3596.51 L247.75,3593.81 L228.79,3590.34 L210.81,3586.10 L193.71,3581.11 L177.42,3575.37 L161.90,3568.88 L147.14,3561.66 L133.13,3553.72 L119.86,3545.05 L107.35,3535.68 L95.58,3525.60 L84.57,3514.83 L74.33,3503.37 L64.86,3491.22 L56.18,3478.40 L48.29,3464.89 L41.21,3450.68 L34.93,3435.77 L29.48,3420.11 L24.86,3403.65 L21.06,3386.30 L18.11,3367.89 L15.99,3348.09 L14.72,3326.12 L14.30,3297.00 Z" fill="#f5f5f3"/><path d="M17.30,298.00 L17.72,270.59 L18.97,249.79 L21.06,231.02 L23.99,213.54 L27.74,197.06 L32.31,181.42 L37.70,166.52 L43.90,152.33 L50.91,138.81 L58.70,125.94 L67.28,113.73 L76.64,102.16 L86.76,91.24 L97.63,80.97 L109.25,71.36 L121.62,62.42 L134.71,54.16 L148.54,46.58 L163.11,39.69 L178.41,33.50 L194.47,28.03 L211.33,23.26 L229.04,19.22 L247.70,15.91 L267.48,13.33 L288.73,11.48 L312.27,10.37 L343.30,10.00 L1398.70,10.00 L1429.73,10.37 L1453.27,11.48 L1474.52,13.33 L1494.30,15.91 L1512.96,19.22 L1530.67,23.26 L1547.53,28.03 L1563.59,33.50 L1578.89,39.69 L1593.46,46.58 L1607.29,54.16 L1620.38,62.42 L1632.75,71.36 L1644.37,80.97 L1655.24,91.24 L1665.36,102.16 L1674.72,113.73 L1683.30,125.94 L1691.09,138.81 L1698.10,152.33 L1704.30,166.52 L1709.69,181.42 L1714.26,197.06 L1718.01,213.54 L1720.94,231.02 L1723.03,249.79 L1724.28,270.59 L1724.70,298.00 L1724.70,3297.00 L1724.28,3325.83 L1723.02,3347.58 L1720.93,3367.19 L1718.00,3385.42 L1714.24,3402.59 L1709.66,3418.89 L1704.25,3434.39 L1698.04,3449.16 L1691.02,3463.22 L1683.20,3476.60 L1674.60,3489.30 L1665.22,3501.32 L1655.07,3512.67 L1644.16,3523.33 L1632.50,3533.31 L1620.09,3542.60 L1606.95,3551.18 L1593.06,3559.04 L1578.44,3566.19 L1563.06,3572.61 L1546.92,3578.30 L1529.97,3583.24 L1512.15,3587.43 L1493.37,3590.87 L1473.44,3593.55 L1452.01,3595.47 L1428.22,3596.62 L1396.70,3597.00 L345.30,3597.00 L313.78,3596.62 L289.99,3595.47 L268.56,3593.55 L248.63,3590.87 L229.85,3587.43 L212.03,3583.24 L195.08,3578.30 L178.94,3572.61 L163.56,3566.19 L148.94,3559.04 L135.05,3551.18 L121.91,3542.60 L109.50,3533.31 L97.84,3523.33 L86.93,3512.67 L76.78,3501.32 L67.40,3489.30 L58.80,3476.60 L50.98,3463.22 L43.96,3449.16 L37.75,3434.39 L32.34,3418.89 L27.76,3402.59 L24.00,3385.42 L21.07,3367.19 L18.98,3347.58 L17.72,3325.83 L17.30,3297.00 Z" fill="#f8f8f6"/>
<path d="M21.50,298.00 L21.91,270.99 L23.15,250.49 L25.22,232.00 L28.10,214.77 L31.80,198.53 L36.32,183.12 L41.64,168.44 L47.76,154.45 L54.67,141.13 L62.37,128.45 L70.84,116.42 L80.07,105.01 L90.06,94.25 L100.80,84.13 L112.27,74.67 L124.47,65.86 L137.40,57.71 L151.05,50.24 L165.43,43.46 L180.53,37.36 L196.39,31.96 L213.03,27.27 L230.51,23.29 L248.93,20.02 L268.46,17.48 L289.43,15.66 L312.67,14.56 L343.30,14.20 L1398.70,14.20 L1429.33,14.56 L1452.57,15.66 L1473.54,17.48 L1493.07,20.02 L1511.49,23.29 L1528.97,27.27 L1545.61,31.96 L1561.47,37.36 L1576.57,43.46 L1590.95,50.24 L1604.60,57.71 L1617.53,65.86 L1629.73,74.67 L1641.20,84.13 L1651.94,94.25 L1661.93,105.01 L1671.16,116.42 L1679.63,128.45 L1687.33,141.13 L1694.24,154.45 L1700.36,168.44 L1705.68,183.12 L1710.20,198.53 L1713.90,214.77 L1716.78,232.00 L1718.85,250.49 L1720.09,270.99 L1720.50,298.00 L1720.50,3297.00 L1720.09,3325.43 L1718.84,3346.88 L1716.78,3366.20 L1713.88,3384.18 L1710.17,3401.12 L1705.65,3417.18 L1700.31,3432.47 L1694.18,3447.03 L1687.25,3460.90 L1679.53,3474.09 L1671.04,3486.61 L1661.78,3498.46 L1651.76,3509.65 L1640.99,3520.17 L1629.48,3530.00 L1617.23,3539.16 L1604.25,3547.62 L1590.55,3555.38 L1576.11,3562.42 L1560.93,3568.75 L1544.99,3574.36 L1528.26,3579.23 L1510.67,3583.37 L1492.13,3586.76 L1472.45,3589.40 L1451.30,3591.29 L1427.82,3592.42 L1396.70,3592.80 L345.30,3592.80 L314.18,3592.42 L290.70,3591.29 L269.55,3589.40 L249.87,3586.76 L231.33,3583.37 L213.74,3579.23 L197.01,3574.36 L181.07,3568.75 L165.89,3562.42 L151.45,3555.38 L137.75,3547.62 L124.77,3539.16 L112.52,3530.00 L101.01,3520.17 L90.24,3509.65 L80.22,3498.46 L70.96,3486.61 L62.47,3474.09 L54.75,3460.90 L47.82,3447.03 L41.69,3432.47 L36.35,3417.18 L31.83,3401.12 L28.12,3384.18 L25.22,3366.20 L23.16,3346.88 L21.91,3325.43 L21.50,3297.00 Z" fill="#cdcdcb"/>
<path d="M22.90,298.00 L23.31,271.12 L24.55,250.73 L26.60,232.32 L29.47,215.19 L33.16,199.02 L37.65,183.68 L42.95,169.08 L49.05,155.16 L55.93,141.90 L63.59,129.29 L72.02,117.31 L81.22,105.97 L91.16,95.26 L101.85,85.19 L113.28,75.77 L125.43,67.00 L138.30,58.90 L151.89,51.47 L166.20,44.71 L181.24,38.65 L197.03,33.27 L213.60,28.60 L231.00,24.64 L249.34,21.39 L268.78,18.86 L289.67,17.05 L312.80,15.96 L343.30,15.60 L1398.70,15.60 L1429.20,15.96 L1452.33,17.05 L1473.22,18.86 L1492.66,21.39 L1511.00,24.64 L1528.40,28.60 L1544.97,33.27 L1560.76,38.65 L1575.80,44.71 L1590.11,51.47 L1603.70,58.90 L1616.57,67.00 L1628.72,75.77 L1640.15,85.19 L1650.84,95.26 L1660.78,105.97 L1669.98,117.31 L1678.41,129.29 L1686.07,141.90 L1692.95,155.16 L1699.05,169.08 L1704.35,183.68 L1708.84,199.02 L1712.53,215.19 L1715.40,232.32 L1717.45,250.73 L1718.69,271.12 L1719.10,298.00 L1719.10,3297.00 L1718.69,3325.29 L1717.45,3346.64 L1715.39,3365.88 L1712.51,3383.77 L1708.82,3400.62 L1704.31,3416.61 L1699.00,3431.83 L1692.89,3446.32 L1685.99,3460.12 L1678.31,3473.25 L1669.85,3485.71 L1660.63,3497.51 L1650.66,3508.64 L1639.93,3519.11 L1628.47,3528.90 L1616.28,3538.01 L1603.36,3546.43 L1589.71,3554.15 L1575.34,3561.17 L1560.22,3567.47 L1544.35,3573.05 L1527.69,3577.90 L1510.18,3582.01 L1491.72,3585.38 L1472.13,3588.01 L1451.06,3589.89 L1427.68,3591.02 L1396.70,3591.40 L345.30,3591.40 L314.32,3591.02 L290.94,3589.89 L269.87,3588.01 L250.28,3585.38 L231.82,3582.01 L214.31,3577.90 L197.65,3573.05 L181.78,3567.47 L166.66,3561.17 L152.29,3554.15 L138.64,3546.43 L125.72,3538.01 L113.53,3528.90 L102.07,3519.11 L91.34,3508.64 L81.37,3497.51 L72.15,3485.71 L63.69,3473.25 L56.01,3460.12 L49.11,3446.32 L43.00,3431.83 L37.69,3416.61 L33.18,3400.62 L29.49,3383.77 L26.61,3365.88 L24.55,3346.64 L23.31,3325.29 L22.90,3297.00 Z" fill="#f3f2ef"/>
</g>
<g clip-path="url(#rimclip)"><rect x="0" y="-1" width="1742" height="10" fill="url(#gTop)"/><rect x="0" y="3595" width="1742" height="14" fill="url(#gBot)"/></g>
<path d="M64.70,356.00 L64.99,293.01 L65.87,264.28 L67.34,241.83 L69.40,222.77 L72.05,205.98 L75.29,190.88 L79.13,177.12 L83.58,164.48 L88.65,152.82 L94.33,142.04 L100.64,132.04 L107.61,122.77 L115.23,114.19 L123.53,106.26 L132.55,98.95 L142.30,92.25 L152.83,86.12 L164.20,80.57 L176.46,75.57 L189.71,71.11 L204.07,67.20 L219.71,63.82 L236.88,60.96 L255.97,58.63 L277.62,56.82 L303.14,55.53 L335.81,54.76 L407.40,54.50 L1334.60,54.50 L1406.19,54.76 L1438.86,55.53 L1464.38,56.82 L1486.03,58.63 L1505.12,60.96 L1522.29,63.82 L1537.93,67.20 L1552.29,71.11 L1565.54,75.57 L1577.80,80.57 L1589.17,86.12 L1599.70,92.25 L1609.45,98.95 L1618.47,106.26 L1626.77,114.19 L1634.39,122.77 L1641.36,132.04 L1647.67,142.04 L1653.35,152.82 L1658.42,164.48 L1662.87,177.12 L1666.71,190.88 L1669.95,205.98 L1672.60,222.77 L1674.66,241.83 L1676.13,264.28 L1677.01,293.01 L1677.30,356.00 L1677.30,3248.00 L1676.98,3297.89 L1676.02,3325.08 L1674.41,3347.31 L1672.17,3366.73 L1669.28,3384.21 L1665.74,3400.20 L1661.56,3414.97 L1656.73,3428.69 L1651.25,3441.48 L1645.11,3453.42 L1638.31,3464.57 L1630.84,3474.97 L1622.69,3484.66 L1613.84,3493.67 L1604.29,3502.00 L1594.02,3509.69 L1582.98,3516.73 L1571.16,3523.15 L1558.50,3528.94 L1544.94,3534.11 L1530.38,3538.66 L1514.72,3542.60 L1497.76,3545.94 L1479.22,3548.66 L1458.62,3550.78 L1435.05,3552.29 L1406.22,3553.20 L1353.30,3553.50 L388.70,3553.50 L335.78,3553.20 L306.95,3552.29 L283.38,3550.78 L262.78,3548.66 L244.24,3545.94 L227.28,3542.60 L211.62,3538.66 L197.06,3534.11 L183.50,3528.94 L170.84,3523.15 L159.02,3516.73 L147.98,3509.69 L137.71,3502.00 L128.16,3493.67 L119.31,3484.66 L111.16,3474.97 L103.69,3464.57 L96.89,3453.42 L90.75,3441.48 L85.27,3428.69 L80.44,3414.97 L76.26,3400.20 L72.72,3384.21 L69.83,3366.73 L67.59,3347.31 L65.98,3325.08 L65.02,3297.89 L64.70,3248.00 Z" fill="none" stroke="#c2c2c0" stroke-width="1.1"/>
<path d="M710,14 L1032,14 L1028,20 C1026,23 1024,24 1020,24 L722,24 C718,24 716,23 714,20 Z" fill="#adadab"/>
</svg>

</body></html>
